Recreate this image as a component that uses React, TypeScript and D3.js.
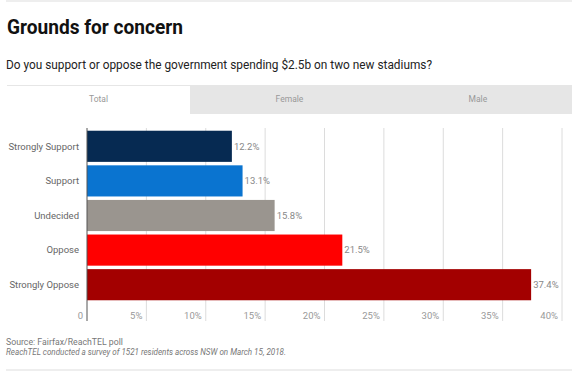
import * as d3 from "d3"

const categories = ["Strongly Support", "Support", "Undecided", "Oppose", "Strongly Oppose"]
const values = [12.2, 13.1, 15.8, 21.5, 37.4]
const colors = ["#062a52", "#0a74d0", "#9a958f", "#ff0000", "#a30000"]
const tabs = ["Total", "Female", "Male"]
const ticks = [0, 5, 10, 15, 20, 25, 30, 35, 40]

const W = 580
const H = 372
const FONT = "'Source Sans Pro', Roboto, 'Noto Sans', sans-serif"

const App = () => {
  const x = d3.scaleLinear().domain([0, 40]).range([87, 562])
  const y = d3.scaleBand<string>().domain(categories).range([129, 302]).paddingInner(0.1).paddingOuter(0.05)
  const tabX = d3.scaleBand<string>().domain(tabs).range([7, 572])

  return (
    <svg
      width={W}
      height={H}
      style={{ position: "absolute", left: 0, top: 0, display: "block", fontFamily: FONT }}
    >
      <rect width={W} height={H} fill="#fff" />
      <line x1={6} x2={572} y1={1} y2={1} stroke="#ddd" />
      <text x={7} y={34} fontSize={20} fontWeight={700} fill="#111" textLength={176} lengthAdjust="spacingAndGlyphs">
        Grounds for concern
      </text>
      <text x={6} y={69} fontSize={12.5} fill="#222" textLength={426} lengthAdjust="spacingAndGlyphs">
        Do you support or oppose the government spending $2.5b on two new stadiums?
      </text>

      {/* tabs */}
      <rect x={7} y={85} width={565} height={29} fill="#e6e6e6" />
      {tabs.map((t, i) => (
        <g key={t}>
          {i === 0 && (
            <rect x={tabX(t)} y={86} width={183} height={28} fill="#fff" />
          )}
          <text
            x={i === 0 ? 7 + 183 / 2 : (tabX(t) ?? 0) + tabX.bandwidth() / 2}
            y={102}
            fontSize={8.5}
            fill="#999"
            textAnchor="middle"
          >
            {t}
          </text>
        </g>
      ))}

      {/* grid */}
      {ticks.map((t) => (
        <g key={t}>
          {t > 0 && (
            <line x1={x(t)} x2={x(t)} y1={128} y2={321} stroke="#dcdcdc" />
          )}
          <text x={x(t) - 4} y={319} fontSize={9.5} fill="#999" textAnchor="end">
            {t === 0 ? "0" : `${t}%`}
          </text>
        </g>
      ))}

      {/* bars */}
      {categories.map((c, i) => (
        <g key={c}>
          <rect
            x={x(0)}
            y={y(c)}
            width={x(values[i]) - x(0)}
            height={y.bandwidth()}
            fill={colors[i]}
          />
          <text
            x={x(values[i]) + 2}
            y={(y(c) ?? 0) + y.bandwidth() / 2}
            dy="0.35em"
            fontSize={9.5}
            fill="#888"
          >
            {values[i].toFixed(1)}%
          </text>
          <text
            x={79}
            y={(y(c) ?? 0) + y.bandwidth() / 2}
            dy="0.35em"
            fontSize={9.5}
            fill="#666"
            textAnchor="end"
          >
            {c}
          </text>
        </g>
      ))}
      <line x1={x(0)} x2={x(0)} y1={128} y2={321} stroke="#555" />

      {/* footer */}
      <text x={6} y={345} fontSize={8.5} fill="#777" textLength={117} lengthAdjust="spacingAndGlyphs">
        Source: Fairfax/ReachTEL poll
      </text>
      <text x={6} y={355} fontSize={8.5} fill="#777" fontStyle="italic" textLength={280} lengthAdjust="spacingAndGlyphs">
        ReachTEL conducted a survey of 1521 residents across NSW on March 15, 2018.
      </text>
      <line x1={6} x2={572} y1={370} y2={370} stroke="#ddd" />
    </svg>
  )
}

export default App
